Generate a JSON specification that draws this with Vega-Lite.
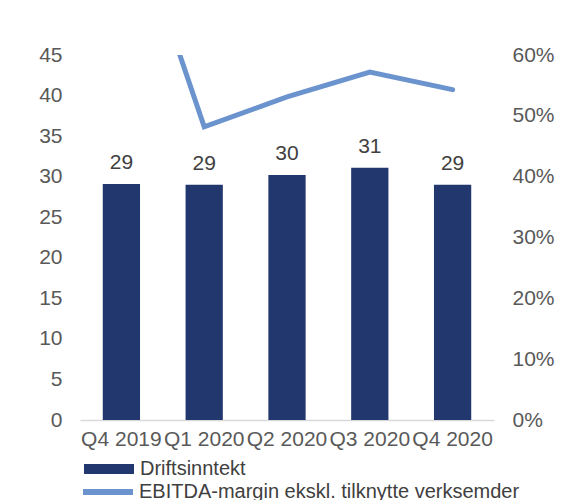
{
  "$schema": "https://vega.github.io/schema/vega-lite/v6.json",
  "autosize": "none",
  "width": 414,
  "height": 365,
  "padding": {"left": 80, "top": 55, "right": 80, "bottom": 80},
  "background": "white",
  "config": {
    "view": {"stroke": null},
    "font": "Liberation Sans",
    "axis": {"labelFont": "Liberation Sans", "labelFontSize": 21, "labelColor": "#595959", "grid": false, "ticks": false, "title": null},
    "legend": {"labelFont": "Liberation Sans", "labelFontSize": 20, "labelColor": "#404040", "labelLimit": 600}
  },
  "data": {
    "values": [
      {"kvartal": "Q4 2019", "inntekt": 29.1, "margin": 0.883},
      {"kvartal": "Q1 2020", "inntekt": 29.0, "margin": 0.482},
      {"kvartal": "Q2 2020", "inntekt": 30.2, "margin": 0.531},
      {"kvartal": "Q3 2020", "inntekt": 31.1, "margin": 0.572},
      {"kvartal": "Q4 2020", "inntekt": 29.0, "margin": 0.543}
    ]
  },
  "encoding": {
    "x": {
      "field": "kvartal", "type": "nominal", "sort": null,
      "scale": {"paddingInner": 0.55, "paddingOuter": 0.275},
      "axis": {"labelAngle": 0, "domainColor": "#d9d9d9", "domainWidth": 1.5, "labelPadding": 8, "labelColor": "#595959"}
    }
  },
  "layer": [
    {
      "layer": [
        {
          "mark": {"type": "bar"},
          "encoding": {
            "y": {"field": "inntekt", "type": "quantitative", "scale": {"domain": [0, 45], "nice": false},
              "axis": {"orient": "left", "values": [0,5,10,15,20,25,30,35,40,45], "domain": false, "labelPadding": 18}},
            "fill": {"datum": "Driftsinntekt", "type": "nominal",
              "scale": {"domain": ["Driftsinntekt"], "range": ["#22376e"]},
              "legend": {"title": null, "orient": "none", "legendX": 4, "legendY": 389, "symbolType": "M-1,-0.2H1V0.2H-1Z", "symbolSize": 2500, "symbolStrokeWidth": 0, "labelOffset": 6}}
          }
        },
        {
          "mark": {"type": "text", "baseline": "alphabetic", "dy": -15, "fontSize": 21, "color": "#404040", "font": "Liberation Sans"},
          "encoding": {
            "y": {"field": "inntekt", "type": "quantitative"},
            "text": {"field": "inntekt", "type": "quantitative", "format": ".0f"}
          }
        }
      ]
    },
    {
      "mark": {"type": "line", "strokeWidth": 5, "clip": true, "strokeCap": "round", "strokeJoin": "miter"},
      "encoding": {
        "y": {"field": "margin", "type": "quantitative", "scale": {"domain": [0, 0.6], "nice": false},
          "axis": {"orient": "right", "format": ".0%", "values": [0,0.1,0.2,0.3,0.4,0.5,0.6], "domain": false, "labelPadding": 18}},
        "stroke": {"datum": "EBITDA-margin ekskl. tilknytte verksemder", "type": "nominal",
          "scale": {"domain": ["EBITDA-margin ekskl. tilknytte verksemder"], "range": ["#6b93cd"]},
          "legend": {"title": null, "orient": "none", "legendX": 0, "legendY": 409, "symbolType": "stroke", "symbolSize": 2500, "symbolStrokeWidth": 6, "labelOffset": 3}}
      }
    }
  ],
  "resolve": {"scale": {"y": "independent"}}
}
